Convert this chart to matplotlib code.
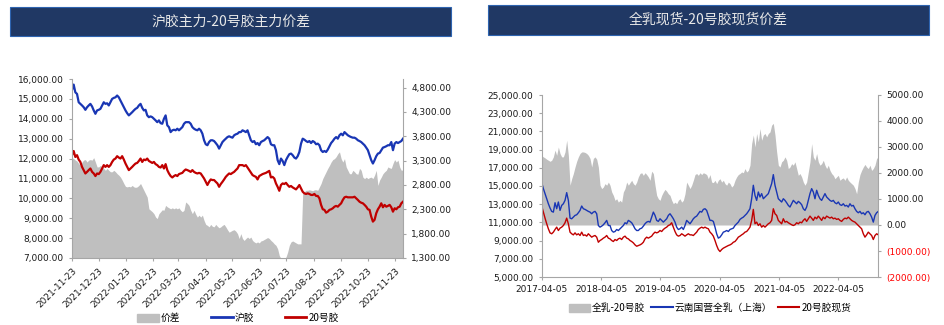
import numpy as np
import pandas as pd
import matplotlib
matplotlib.use("Agg")
import matplotlib.pyplot as plt
from matplotlib.patches import Rectangle, Patch
from matplotlib.lines import Line2D

plt.rcParams['font.family'] = ['DejaVu Sans', 'Noto Sans CJK SC']

# ------ LEFT PANEL DATA : 沪胶主力 vs 20号胶主力 (2021-11-23 .. 2022-12-02) ------
ru_main = [
    15450, 15720, 15330, 15250, 14830, 14750, 14670, 14580, 14450, 14580,
    14670, 14750, 14620, 14420, 14250, 14420, 14450, 14500, 14670, 14830,
    14750, 14780, 14670, 14830, 15000, 15050, 15080, 15170, 15080, 14920,
    14750, 14580, 14420, 14280, 14170, 14250, 14330, 14420, 14500, 14550,
    14670, 14750, 14550, 14420, 14450, 14170, 14080, 14120, 14080, 14000,
    13920, 13830, 13920, 13780, 13750, 14000, 14170, 13670, 13580, 13330,
    13420, 13450, 13420, 13500, 13420, 13500, 13580, 13750, 13830, 13830,
    13830, 13750, 13580, 13500, 13450, 13420, 13500, 13420, 13250, 12920,
    12720, 12670, 12830, 12920, 12920, 12880, 12780, 12670, 12500, 12670,
    12830, 12920, 13000, 13080, 13120, 13080, 13050, 13170, 13220, 13250,
    13330,
    13330, 13420, 13380, 13330, 13420, 13170, 12920, 12830, 12880, 12720,
    12780, 12670, 12830, 12880, 12920, 13000, 13080, 13000, 12720, 12670,
    12670, 12420, 11920, 11720, 12000, 11880, 11670, 11920, 12080, 12220,
    12250, 12170, 12050, 12000, 12120, 12330, 12750, 13000, 12950, 12880,
    12830, 12880, 12780, 12880, 12830, 12720, 12750, 12670, 12420, 12330,
    12380, 12330, 12450, 12620, 12780, 12880, 13000, 13080, 13000, 13170,
    13250, 13170, 13330, 13250, 13170, 13120, 13080, 13050, 13050, 13000,
    12920, 12880, 12830, 12750, 12670, 12550, 12420, 12170, 11920, 11750,
    11920, 12120, 12250, 12280, 12420, 12550, 12580, 12620, 12670, 12670,
    12830, 12420, 12750, 12830, 12780, 12830, 12880, 13000,
]
nr_main = [
    12170, 12380, 12080, 12170, 11950, 11830, 11580, 11420, 11250, 11330,
    11420, 11500, 11330, 11250, 11120, 11250, 11220, 11330, 11500, 11670,
    11580, 11670, 11580, 11670, 11830, 11950, 12000, 12120, 12050, 12000,
    12120, 11950, 11750, 11580, 11420, 11500, 11580, 11670, 11750, 11780,
    11880, 12000, 11830, 11950, 11920, 12000, 11880, 11830, 11780, 11830,
    11720, 11670, 11580, 11550, 11670, 11500, 11720, 11420, 11250, 11120,
    11050, 11120, 11170, 11120, 11220, 11250, 11280, 11380, 11450, 11420,
    11380, 11330, 11420, 11330, 11280, 11250, 11280, 11250, 11120, 11000,
    10830, 10670, 10830, 10950, 10920, 10920, 10830, 10750, 10580, 10720,
    10830, 10950, 11080, 11170, 11250, 11220, 11280, 11330, 11420, 11500,
    11670,
    11670, 11670, 11620, 11670, 11550, 11420, 11280, 11170, 11120, 11080,
    10950, 11120, 11170, 11220, 11250, 11280, 11330, 11380, 11050, 11080,
    11000, 10750, 10580, 10380, 10670, 10750, 10720, 10780, 10670, 10580,
    10620, 10550, 10500, 10450, 10550, 10670, 10500, 10330, 10250, 10220,
    10250, 10220, 10170, 10170, 10220, 10120, 10120, 10000, 9670, 9450,
    9420, 9280, 9330, 9420, 9450, 9500, 9580, 9620, 9580, 9670,
    9750, 9920, 10050, 10080, 10050, 10050, 10050, 10050, 10080, 10000,
    9920, 9830, 9780, 9750, 9670, 9580, 9450, 9420, 9080, 8830,
    8920, 9250, 9450, 9580, 9750, 9550, 9670, 9580, 9620, 9670,
    9550, 9330, 9500, 9450, 9550, 9580, 9750, 9830,
]
main_spread = [
    3360, 3340, 3310, 3290, 3240, 3200, 3270, 3310, 3320, 3270,
    3310, 3320, 3310, 3360, 3270, 3170, 3170, 3200, 3170, 3140,
    3100, 3140, 3100, 3070, 3070, 3100, 3070, 3030, 3000, 2960,
    2900, 2830, 2770, 2760, 2770, 2760, 2790, 2760, 2750, 2760,
    2790, 2830, 2760, 2690, 2620, 2550, 2310, 2280, 2250, 2210,
    2140, 2110, 2210, 2250, 2290, 2280, 2380, 2350, 2330, 2310,
    2330, 2310, 2330, 2310, 2330, 2280, 2250, 2280, 2450, 2420,
    2380, 2280, 2210, 2280, 2200, 2140, 2180, 2140, 2180, 2070,
    1990, 1970, 1940, 1990, 1950, 1940, 1990, 1950, 1920, 1940,
    1970, 1990, 1940, 1880, 1830, 1850, 1870, 1880, 1850, 1800,
    1700,
    1800, 1700, 1660, 1700, 1730, 1700, 1730, 1660, 1630, 1610,
    1630, 1610, 1650, 1660, 1680, 1700, 1720, 1700, 1660, 1630,
    1590, 1560, 1490, 1350, 1290, 1270, 1290, 1320, 1420, 1560,
    1630, 1650, 1630, 1610, 1590, 1590, 1590, 2620, 2660, 2690,
    2690, 2700, 2690, 2680, 2700, 2700, 2690, 2760, 2830, 2930,
    3000, 3070, 3140, 3200, 3270, 3320, 3340, 3380, 3440, 3480,
    3340, 3270, 3340, 3170, 3100, 3030, 3030, 3100, 3070, 3030,
    3020, 3140, 3100, 2960, 2930, 2960, 2930, 2950, 2960, 2930,
    3000, 3100, 2790, 2900, 2960, 3030, 3070, 3100, 3170, 3150,
    3140, 3240, 3320, 3270, 3310, 3170, 3100, 3110,
]
left_start, left_end = '2021-11-23', '2022-12-02'
left_ticks = ['2021-11-23', '2021-12-23', '2022-01-23', '2022-02-23', '2022-03-23',
              '2022-04-23', '2022-05-23', '2022-06-23', '2022-07-23', '2022-08-23',
              '2022-09-23', '2022-10-23', '2022-11-23']

# ------ RIGHT PANEL DATA : 云南国营全乳 vs 20号胶现货 (2017-04-05 .. 2022-12-07) ------
scrwf_spot = [
    15370, 14710, 14160, 13600, 13050, 12580, 12210, 12130, 13160, 12500,
    13240, 12320, 12870, 13050, 13420, 14270, 13420, 11470, 11400, 11580,
    11770, 11840, 12060, 12320, 12800, 12500, 12430, 12320, 12210, 12130,
    11950, 12130, 12210, 11950, 10660, 10480, 10590, 10740, 10960, 11220,
    10660, 10660, 10110, 9930, 10000, 10220, 10110, 10300, 10480, 10660,
    10960, 10850, 11220, 11110, 10960, 10660, 10300, 10110, 10110, 10300,
    10370, 10590, 10850, 11030, 11110, 11030, 11580, 12130, 11770, 11220,
    11110, 11400, 11220, 11030, 11220, 11400, 11770, 11950, 11690, 11400,
    11030, 10480, 10220, 10300, 10480, 10220, 10660, 11220, 11030, 10850,
    11110, 11400, 11580, 11690, 11950, 12210, 12130, 12430, 12500, 12320,
    11770, 11220,
    11220, 11110, 10480, 9750, 9270, 9380, 9630, 9930, 10000, 10110,
    10000, 10220, 10300, 10370, 10660, 10850, 11030, 11330, 11470, 11580,
    11770, 11950, 12210, 12500, 13600, 15080, 13970, 13420, 14340, 13790,
    14160, 13600, 13790, 13970, 14160, 14710, 15260, 16250, 15080, 14340,
    13600, 13420, 13240, 13600, 13420, 13160, 12870, 12690, 13050, 13420,
    13240, 13050, 13310, 13160, 12950, 12500, 12320, 12690, 13420, 14160,
    14710, 14340, 13600, 14530, 13970, 13600, 13420, 13790, 14160, 13790,
    13600, 13420, 13310, 13420, 13160, 13050, 13240, 12950, 12870, 13050,
    12800, 12870, 12690, 13050, 12800, 12870, 12500, 12210, 12060, 12210,
    11950, 12060, 11840, 12130, 12210, 11950, 11580, 11030, 11770, 12060,
    12210,
]
tsr20_spot = [
    12800, 12130, 11470, 10850, 10300, 9850, 9750, 9930, 10220, 10480,
    10110, 10370, 10480, 10660, 10960, 11470, 10850, 9930, 9750, 9630,
    9850, 9630, 9750, 9560, 9930, 9560, 9630, 9490, 9750, 9560,
    9380, 9490, 9560, 9380, 8820, 9010, 9120, 9270, 9380, 9560,
    9270, 9190, 9010, 8900, 9120, 9010, 9190, 9270, 9120, 9380,
    9490, 9270, 9190, 9010, 8900, 8750, 8530, 8380, 8460, 8530,
    8640, 8820, 9190, 9380, 9270, 9380, 9490, 9750, 9930, 9850,
    9930, 10110, 10000, 10220, 10370, 10480, 10660, 10740, 10960, 10480,
    10000, 9630, 9490, 9560, 9750, 9630, 9490, 9630, 9750, 9630,
    9630, 9560, 9750, 9930, 10220, 10370, 10480, 10370, 10480, 10370,
    10300, 9930,
    9750, 9490, 9010, 8460, 8020, 7800, 8020, 8170, 8270, 8380,
    8460, 8530, 8640, 8820, 8900, 9120, 9380, 9490, 9630, 9750,
    9930, 10000, 10220, 10480, 11220, 12430, 10850, 11030, 10660, 10850,
    10480, 10660, 10480, 10660, 10850, 10960, 11220, 12500, 11950, 11770,
    11220, 11030, 10850, 11400, 11030, 11110, 10960, 10850, 10740, 10660,
    10740, 10960, 10850, 11030, 10960, 11220, 11400, 11110, 11400, 11690,
    11470, 11220, 11580, 11400, 11690, 11470, 11220, 11580, 11400, 11690,
    11580, 11470, 11580, 11400, 11470, 11330, 11400, 11220, 11110, 11330,
    11470, 11400, 11580, 11400, 11220, 11110, 11030, 10850, 10660, 10480,
    10300, 9750, 9380, 9630, 9930, 9750, 9560, 9120, 9560, 9750,
    9630,
]
spot_spread = [
    2660, 2620, 2580, 2530, 2490, 2450, 2490, 2620, 2880, 2680,
    3000, 2750, 2620, 2620, 2810, 3260, 2680, 1530, 1780, 1980,
    2230, 2450, 2620, 2750, 2810, 2810, 2790, 2750, 2680, 2560,
    2230, 2560, 2620, 2530, 2230, 1530, 1400, 1460, 1590, 1530,
    1650, 1530, 1270, 1140, 950, 1010, 880, 950, 880, 1270,
    1400, 1650, 1530, 1630, 1720, 1590, 1530, 1650, 1850, 1980,
    2010, 1910, 2010, 1940, 1850, 1720, 2070, 1980, 1530, 1140,
    1010, 950, 1140, 1270, 1370, 1300, 1200, 1140, 950, 820,
    880, 820, 950, 1010, 880, 950, 1200, 1650, 1530, 1400,
    1530, 1720, 1940, 1980, 1910, 2010, 1940, 2010, 1980, 1940,
    1780, 1940,
    1650, 1630, 1720, 1590, 1720, 1780, 1650, 1720, 1590, 1530,
    1650, 1590, 1460, 1530, 1720, 1850, 1940, 1980, 2040, 2010,
    2170, 2040, 2100, 2300, 3130, 3460, 3000, 3520, 3200, 3710,
    3260, 3460, 3520, 3390, 3520, 3580, 3840, 3910, 3460, 2810,
    2300, 2230, 2430, 2490, 2620, 2490, 2170, 2230, 2360, 2300,
    2430, 2170, 1910, 1980, 1850, 1650, 1530, 1650, 2040, 2430,
    3130, 2620, 2490, 2750, 2430, 2300, 2360, 2490, 2300, 2170,
    2300, 2100, 1980, 1910, 1780, 1850, 1910, 1720, 1780, 1810,
    1720, 1850, 1720, 1650, 1590, 1530, 1400, 1200, 1650, 1940,
    2100, 2230, 2330, 2230, 2170, 2300, 2100, 2170, 2300, 2560,
    2620,
]
right_start, right_end = '2017-04-05', '2022-12-07'
right_ticks = ['2017-04-05', '2018-04-05', '2019-04-05', '2020-04-05', '2021-04-05', '2022-04-05']

GRAY = '#BFBFBF'
BLUE = '#1936B4'
RED = '#C00000'
AXC = '#A6A6A6'
TXT = '#1A1A1A'
W, H = 944, 325


def fx(px):
    return px / W


def fy(py):
    return 1 - py / H


def style_axes(ax, sides):
    for s in ['top', 'right', 'left', 'bottom']:
        ax.spines[s].set_visible(s in sides)
        ax.spines[s].set_color(AXC)
        ax.spines[s].set_linewidth(0.8)
    ax.tick_params(colors=AXC, labelcolor=TXT, labelsize=6.5, length=2.5, width=0.8)


def banner(fig, x0, y0, x1, y1, text):
    fig.patches.append(Rectangle((fx(x0), fy(y1)), fx(x1 - x0), (y1 - y0) / H,
                                 transform=fig.transFigure, facecolor='#203864',
                                 edgecolor='#2E64B0', lw=0.8))
    fig.text(fx((x0 + x1) / 2), fy((y0 + y1) / 2), text, color='#E8E8E8',
             fontsize=10, ha='center', va='center',
             family=['Noto Sans CJK SC', 'DejaVu Sans'])


fig = plt.figure(figsize=(W / 100, H / 100), dpi=100)

# ------ LEFT PANEL ------
ld = pd.date_range(left_start, left_end, periods=len(ru_main))
ax1 = fig.add_axes([fx(72), fy(258), fx(403 - 72), (258 - 79) / H])
tw1 = ax1.twinx()
tw1.fill_between(ld, 1300, main_spread, color=GRAY, lw=0)
ax1.plot(ld, ru_main, color=BLUE, lw=1.6)
ax1.plot(ld, nr_main, color=RED, lw=1.6)
ax1.set_zorder(tw1.get_zorder() + 1)
ax1.patch.set_visible(False)

ax1.set_xlim(pd.Timestamp(left_start), pd.Timestamp(left_end))
ax1.set_ylim(7000, 16000)
ax1.set_yticks(np.arange(7000, 16001, 1000))
ax1.set_yticklabels([f'{v:,.2f}' for v in np.arange(7000, 16001, 1000)])
tw1.set_ylim(1300, 4975)
tw1.set_yticks(np.arange(1300, 4801, 500))
tw1.set_yticklabels([f'{v:,.2f}' for v in np.arange(1300, 4801, 500)])
lt = pd.to_datetime(left_ticks)
ax1.set_xticks(lt)
ax1.set_xticklabels(left_ticks, rotation=45, ha='right', rotation_mode='anchor')
style_axes(ax1, ['left', 'bottom'])
style_axes(tw1, ['right'])
tw1.spines['bottom'].set_visible(False)
tw1.spines['left'].set_visible(False)

banner(fig, 10, 7, 451, 36, '沪胶主力-20号胶主力价差')

h1 = [Patch(color=GRAY), Line2D([], [], color=BLUE, lw=2), Line2D([], [], color=RED, lw=2)]
fig.legend(h1, ['价差', '沪胶', '20号胶'], loc='center', bbox_to_anchor=(fx(238), fy(318)),
           ncol=3, frameon=False, fontsize=7, handlelength=2.2, handleheight=0.9,
           handletextpad=0.2, columnspacing=3.2,
           prop={'family': ['Noto Sans CJK SC', 'DejaVu Sans'], 'size': 7})

# ------ RIGHT PANEL ------
rd = pd.date_range(right_start, right_end, periods=len(scrwf_spot))
ax2 = fig.add_axes([fx(541.7), fy(277), fx(878.3 - 541.7), (277 - 95) / H])
tw2 = ax2.twinx()
tw2.fill_between(rd, 0, spot_spread, color=GRAY, lw=0)
ax2.plot(rd, scrwf_spot, color=BLUE, lw=1.0)
ax2.plot(rd, tsr20_spot, color=RED, lw=1.0)
ax2.set_zorder(tw2.get_zorder() + 1)
ax2.patch.set_visible(False)

ax2.set_xlim(pd.Timestamp(right_start), pd.Timestamp(right_end))
ax2.set_ylim(5000, 25000)
ax2.set_yticks(np.arange(5000, 25001, 2000))
ax2.set_yticklabels([f'{v:,.2f}' for v in np.arange(5000, 25001, 2000)])
tw2.set_ylim(-2000, 5000)
rv = np.arange(-2000, 5001, 1000)
tw2.set_yticks(rv)
tw2.set_yticklabels([f'{v:.2f}' if v >= 0 else f'({abs(v):.2f})' for v in rv])
rt = pd.to_datetime(right_ticks)
ax2.set_xticks(rt)
ax2.set_xticklabels(right_ticks)
style_axes(ax2, ['left', 'bottom'])
style_axes(tw2, ['right'])
tw2.spines['bottom'].set_visible(False)
tw2.spines['left'].set_visible(False)
for lab, v in zip(tw2.get_yticklabels(), rv):
    if v < 0:
        lab.set_color('#FF0000')

banner(fig, 488, 5, 929, 35, '全乳现货-20号胶现货价差')

h2 = [Patch(color=GRAY), Line2D([], [], color=BLUE, lw=1.5), Line2D([], [], color=RED, lw=1.5)]
fig.legend(h2, ['全乳-20号胶', '云南国营全乳（上海）', '20号胶现货'], loc='center',
           bbox_to_anchor=(fx(710), fy(308)), ncol=3, frameon=False,
           handlelength=2.2, handleheight=0.9, handletextpad=0.2, columnspacing=0.6,
           prop={'family': ['Noto Sans CJK SC', 'DejaVu Sans'], 'size': 7})

fig.savefig('out.png', dpi=100)
